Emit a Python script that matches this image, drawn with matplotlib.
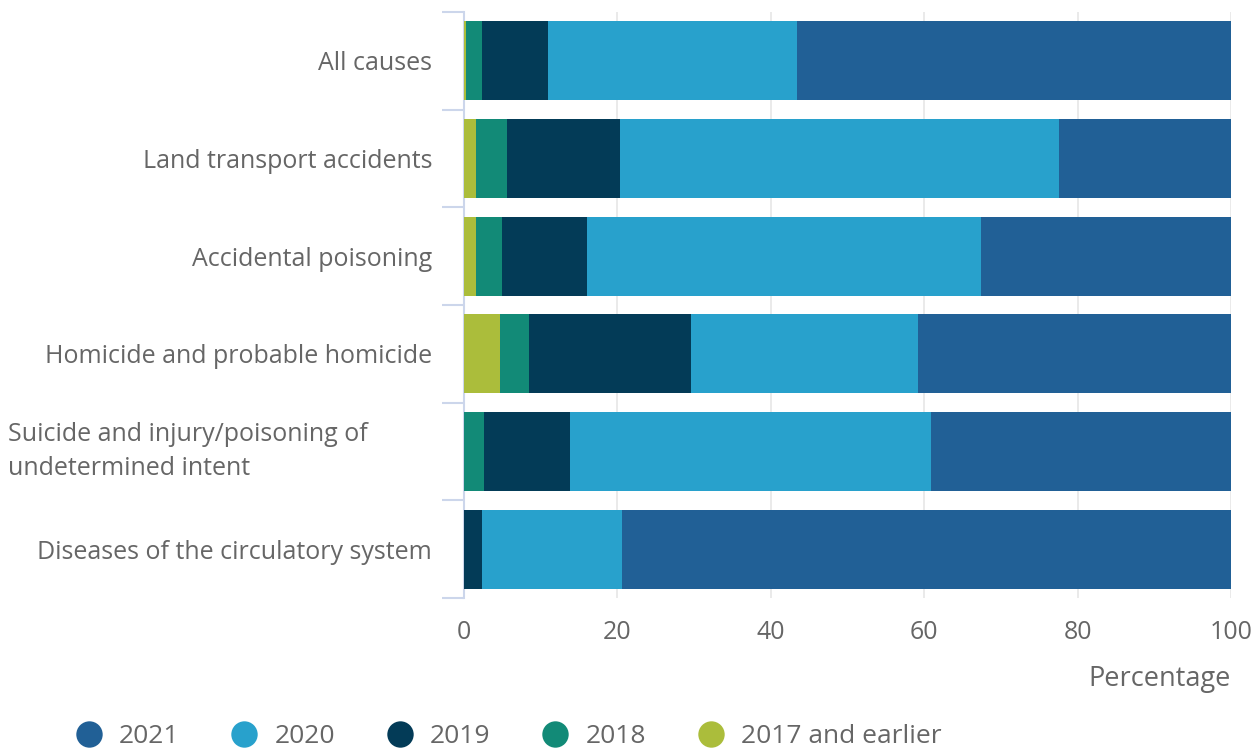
import matplotlib.pyplot as plt
from matplotlib.lines import Line2D
from matplotlib.transforms import blended_transform_factory
import numpy as np

plt.rcParams['font.family'] = ['Open Sans', 'DejaVu Sans']

# Data (percent of deaths by registration year)
categories = ['All causes', 'Land transport accidents', 'Accidental poisoning',
              'Homicide and probable homicide',
              'Suicide and injury/poisoning of\nundetermined intent',
              'Diseases of the circulatory system']
years = ['2017 and earlier', '2018', '2019', '2020', '2021']
y2017 = [0.3, 1.5, 1.5, 4.7, 0.0, 0.0]
y2018 = [2.1, 4.1, 3.5, 3.8, 2.6, 0.0]
y2019 = [8.5, 14.7, 11.1, 21.1, 11.2, 2.3]
y2020 = [32.5, 57.3, 51.3, 29.6, 47.1, 18.3]
y2021 = [56.6, 22.4, 32.6, 40.8, 39.1, 79.4]
series = [y2017, y2018, y2019, y2020, y2021]
colors = ['#abbd3b', '#128a77', '#033b57', '#28a1cc', '#216096']
legend_order = ['2021', '2020', '2019', '2018', '2017 and earlier']

text_col = '#666666'
axis_col = '#ccd6eb'

fig = plt.figure(figsize=(12.6, 7.55), dpi=100)
ax = fig.add_axes([464 / 1260, 1 - 598 / 755, (1231 - 464) / 1260, (598 - 12) / 755])

ypos = np.arange(len(categories))
left = np.zeros(len(categories))
handles = {}
for name, vals, col in zip(years, series, colors):
    vals = np.array(vals)
    ax.barh(ypos, vals, left=left, height=0.81, color=col, edgecolor='none', zorder=3)
    handles[name] = col
    left += vals

ax.set_xlim(0, 100)
ax.set_ylim(len(categories) - 0.5, -0.5)
ax.set_xticks([0, 20, 40, 60, 80, 100])
ax.grid(axis='x', color='#e6e6e6', linewidth=1.2, zorder=0)
ax.set_yticks(ypos)
# wrapped labels sit left-aligned at the chart edge, so draw them separately
tick_text = [c if '\n' not in c else '' for c in categories]
ax.set_yticklabels(tick_text)
trans = blended_transform_factory(fig.transFigure, ax.transData)
for i, c in enumerate(categories):
    if '\n' in c:
        ax.text(8 / 1260, i, c, transform=trans, ha='left', va='center',
                fontsize=18, color=text_col, linespacing=1.45)
ax.set_yticks(np.arange(-0.5, len(categories), 1), minor=True)
ax.tick_params(axis='y', which='major', length=0, pad=23, labelsize=18, labelcolor=text_col)
ax.tick_params(axis='y', which='minor', length=16, width=1.5, color=axis_col)
ax.tick_params(axis='x', length=0, pad=16, labelsize=18, labelcolor=text_col)

for s in ['top', 'right', 'bottom']:
    ax.spines[s].set_visible(False)
ax.spines['left'].set_color(axis_col)
ax.spines['left'].set_linewidth(1.5)

ax.set_xlabel('Percentage', fontsize=19.5, color=text_col, loc='right', labelpad=14)

leg_handles = [Line2D([], [], marker='o', linestyle='none', markersize=19,
                      markerfacecolor=handles[n], markeredgecolor='none') for n in legend_order]
fig.legend(leg_handles, legend_order, loc='lower left', bbox_to_anchor=(0.041, -0.024),
           ncol=5, frameon=False, fontsize=19, labelcolor=text_col,
           handlelength=1.0, handletextpad=0.65, columnspacing=1.95)

fig.savefig('out.png', dpi=100)
